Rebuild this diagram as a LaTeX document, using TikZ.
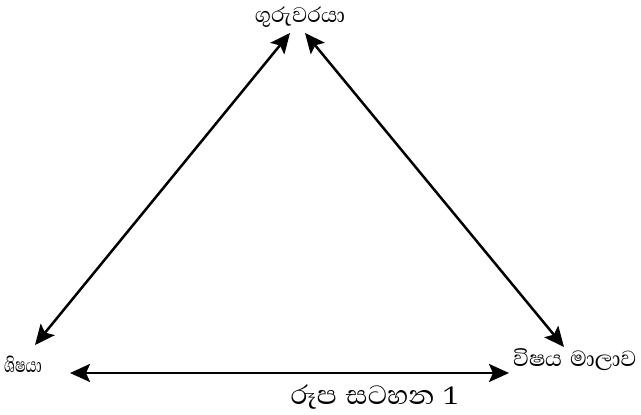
\documentclass[tikz,border=0pt]{standalone}
\usepackage{fontspec}
\newfontfamily\sinhala[Script=Sinhala]{Abhaya Libre}
\usetikzlibrary{arrows.meta}
\tikzset{
  link/.style={line width=2.5pt,{Stealth[length=20pt,width=18pt,inset=4pt]}-{Stealth[length=20pt,width=18pt,inset=4pt]}},
  lbl/.style={font=\sinhala\fontsize{27}{30}\selectfont, inner sep=0pt}
}
\begin{document}
\begin{tikzpicture}[x=1pt,y=-1pt]
\useasboundingbox (0,0) rectangle (641,415);
\clip (0,0) rectangle (641,415);
\node[lbl] (teacher) at (300,17) {ගුරුවරයා};
\node[lbl,anchor=west,font=\sinhala\fontsize{26}{28}\selectfont] (student) at (4,364) {\scalebox{0.7}[1]{ශිෂයා}};
\node[lbl,anchor=west,font=\sinhala\fontsize{28}{31}\selectfont] (curr) at (513,360) {විෂය\hspace{8pt}මාලාව};
\node[lbl,font=\sinhala\fontsize{34}{37}\selectfont] (cap) at (374,397) {රූප\hspace{9pt}සටහන\hspace{9pt}1};
\coordinate (tl) at (290,33);
\coordinate (tr) at (305,33);
\coordinate (bl) at (35,345);
\coordinate (br) at (564,347);
\coordinate (hl) at (70,373);
\coordinate (hr) at (509,373);
\draw[link] (bl) -- (tl);
\draw[link] (tr) -- (br);
\draw[link] (hl) -- (hr);
\end{tikzpicture}
\end{document}
